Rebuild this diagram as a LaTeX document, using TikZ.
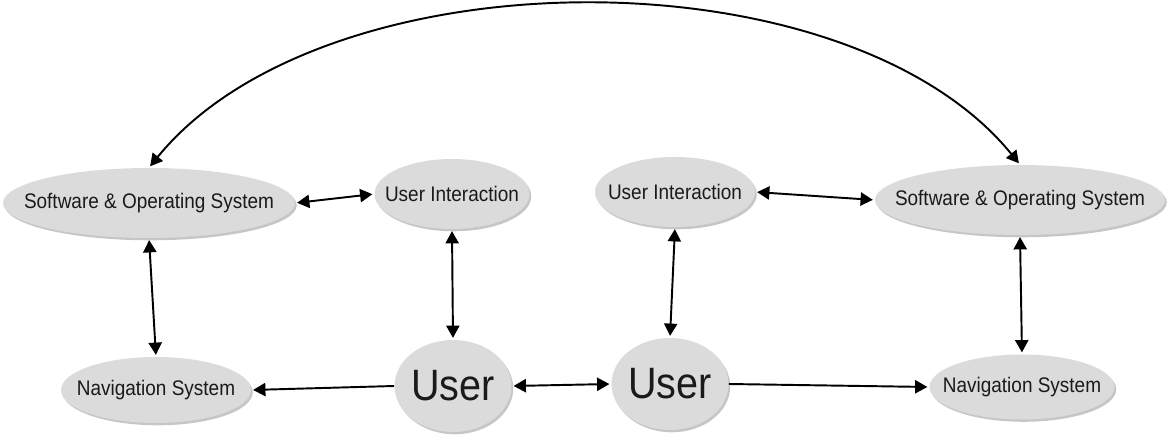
\documentclass[tikz,border=0pt]{standalone}
\usepackage{fontspec}
\setmainfont{Liberation Sans}[FakeStretch=0.9]
\usetikzlibrary{shapes.geometric,arrows.meta,shadows}
\definecolor{blobgray}{RGB}{219,219,219}
\definecolor{inkgray}{RGB}{26,26,26}
\newcommand{\blabel}[1]{\makebox[0pt]{#1}}
\begin{document}
\begin{tikzpicture}[
    blob/.style={ellipse,fill=blobgray,text=inkgray,inner sep=0pt,
      font=\fontsize{12}{14}\selectfont,
      drop shadow={shadow xshift=1pt,shadow yshift=-1.3pt,opacity=0.45}},
    bigblob/.style={blob,font=\fontsize{25}{28}\selectfont},
    both/.style={line width=1.1pt,shorten <=1pt,shorten >=1pt,
      {Triangle[length=7pt,width=7.5pt]}-{Triangle[length=7pt,width=7.5pt]}},
    one/.style={line width=1.1pt,shorten >=1pt,-{Triangle[length=7pt,width=7.5pt]}}
  ]
  \useasboundingbox (0,0) rectangle (23.46,8.8);
  % left half
  \node[blob,minimum width=5.84cm,minimum height=1.4cm] (lsos) at (2.98,4.74) {\blabel{Software \& Operating System}};
  \node[blob,minimum width=3.1cm,minimum height=1.4cm] (lui) at (9.04,4.92) {\blabel{User Interaction}};
  \node[blob,minimum width=3.8cm,minimum height=1.32cm] (lnav) at (3.12,1.0) {\blabel{Navigation System}};
  \node[bigblob,minimum width=2.34cm,minimum height=1.84cm] (luser) at (9.06,1.08) {\blabel{User}};
  % right half
  \node[bigblob,minimum width=2.34cm,minimum height=1.84cm] (ruser) at (13.4,1.12) {\blabel{User}};
  \node[blob,minimum width=3.2cm,minimum height=1.4cm] (rui) at (13.5,4.96) {\blabel{User Interaction}};
  \node[blob,minimum width=5.8cm,minimum height=1.4cm] (rsos) at (20.4,4.8) {\blabel{Software \& Operating System}};
  \node[blob,minimum width=3.7cm,minimum height=1.3cm] (rnav) at (20.44,1.06) {\blabel{Navigation System}};
  % links
  \draw[both] (lsos.east) -- (lui.west);
  \draw[both] (lsos.south) -- (lnav.north);
  \draw[both] (lui.south) -- (luser.north);
  \draw[one] (luser.west) -- (lnav.east);
  \draw[both] (luser.east) -- (ruser.west);
  \draw[both] (rui.south) -- (ruser.north);
  \draw[both] (rui.east) -- (rsos.west);
  \draw[both] (rsos.south) -- (rnav.north);
  \draw[one] (ruser.east) -- (rnav.west);
  \draw[both] (lsos.north) .. controls +(3.5,4.3) and +(-3.5,4.3) .. (rsos.north);
\end{tikzpicture}
\end{document}
